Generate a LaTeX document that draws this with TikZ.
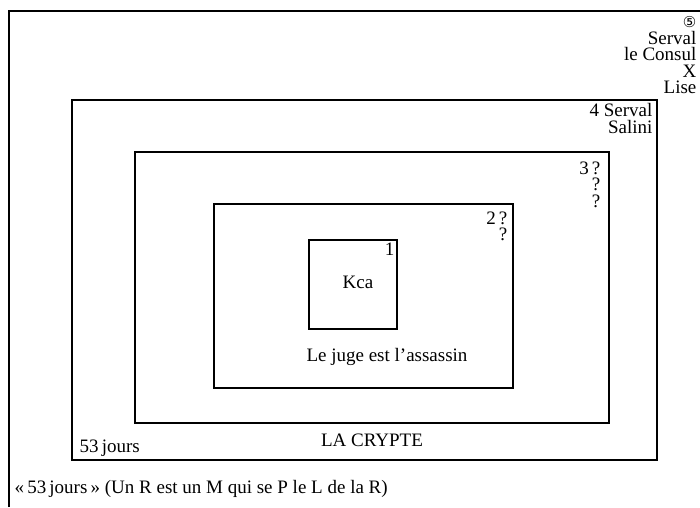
\documentclass[tikz,border=0pt]{standalone}
\usepackage{fontspec}
\setmainfont{Liberation Serif}
\newfontfamily\circfont{DejaVu Sans}
\begin{document}
\begin{tikzpicture}[x=1pt,y=-1pt,line width=1.2pt,
  every node/.style={font=\fontsize{19}{16.5}\selectfont,inner sep=0pt},
  tag/.style={anchor=north east,align=right}]
\useasboundingbox (0,0) rectangle (700,507);
\draw (9,507) -- (9,11) -- (700,11);
\draw (72,100) rectangle (657,460);
\draw (135,152) rectangle (609,423);
\draw (214,204) rectangle (513,388);
\draw (309,240) rectangle (397,329);

\draw (697,16) node[tag] (cinq) {{\circfont\fontsize{15}{15}\selectfont ⑤}\\Serval\\le Consul\\X\\Lise};
\draw (653,103) node[tag] (quatre) {4 Serval\\Salini};
\draw (601,161) node[tag] (trois) {3\,?\\?\\?};
\draw (508,211) node[tag] (deux) {2\,?\\?};
\draw (395,242) node[tag] (un) {1};

\draw (358,282) node (kca) {Kca};
\draw (387,357) node (juge) {Le juge est l'assassin};
\draw (372,440) node (crypte) {LA CRYPTE};
\draw (79,448) node[anchor=west] (jours) {53\,jours};
\draw (14,489) node[anchor=west] (titre) {«\,53\,jours\,» (Un R est un M qui se P le L de la R)};

\end{tikzpicture}
\end{document}
